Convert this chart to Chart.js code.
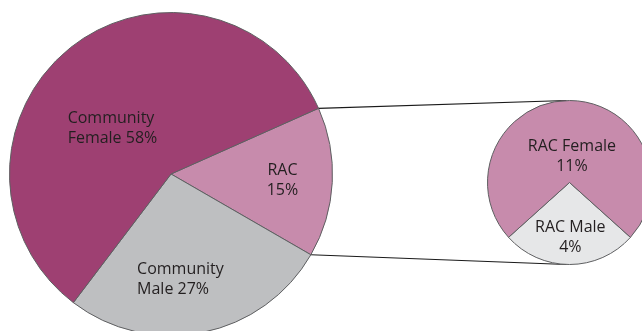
<!DOCTYPE html>
<html>
<head>
<meta charset="utf-8">
<script src="https://cdn.jsdelivr.net/npm/chart.js@4.4.1/dist/chart.umd.min.js"></script>
<style>
    html, body { margin: 0; padding: 0; background: #fff; overflow: hidden; width: 642px; height: 331px; }
    #stage { position: relative; width: 642px; height: 331px; overflow: hidden; }
    #stage canvas { position: absolute; }
    #links { left: 0; top: 0; }
    #mainPie { left: 9px; top: 12px; }
    #racPie { left: 487px; top: 100px; }
</style>
</head>
<body>
<div id="stage">
    <canvas id="links" width="642" height="331"></canvas>
    <canvas id="mainPie" width="324" height="324"></canvas>
    <canvas id="racPie" width="165" height="165"></canvas>
</div>
<script>
// ==================== DATA ====================
const mainLabels = ['RAC', 'Community\nMale', 'Community\nFemale'];
const mainValues = [15, 27, 58];
const mainColors = ['#C78BAC', '#BEBFC1', '#9E4072'];

const racLabels = ['RAC Male', 'RAC Female'];
const racValues = [4, 11];
const racColors = ['#E6E7E8', '#C78BAC'];

const TEXT_FONT = '16px "Open Sans", sans-serif';
const TEXT_COLOR = '#231F20';
const EDGE_COLOR = '#5E5F61';

// ==================== SLICE TEXT PLUGIN ====================
// spots: position of each text block, in units of the pie radius
const sliceText = {
    id: 'sliceText',
    afterDatasetsDraw(chart, args, opts) {
        const ctx = chart.ctx;
        const ds = chart.data.datasets[0];
        const arcs = chart.getDatasetMeta(0).data;
        ctx.save();
        ctx.font = TEXT_FONT;
        ctx.fillStyle = TEXT_COLOR;
        ctx.textBaseline = 'middle';
        arcs.forEach((arc, i) => {
            const spot = opts.spots[i];
            const R = arc.outerRadius;
            const text = chart.data.labels[i] + spot.sep + ds.data[i] + '%';
            const lines = text.split('\n');
            const bx = arc.x + spot.x * R;
            const by = arc.y + spot.y * R;
            ctx.textAlign = spot.align;
            lines.forEach((line, j) => {
                ctx.fillText(line, bx, by + (j - (lines.length - 1) / 2) * opts.lineHeight);
            });
        });
        ctx.restore();
    }
};

// ==================== BUILD PIE ====================
const buildPie = (canvasId, labels, values, colors, rotation, spots) => {
    return new Chart(document.getElementById(canvasId), {
        type: 'pie',
        data: {
            labels: labels,
            datasets: [{
                data: values,
                backgroundColor: colors,
                borderColor: EDGE_COLOR,
                borderWidth: 1
            }]
        },
        options: {
            responsive: false,
            animation: false,
            rotation: rotation,
            layout: { padding: 0 },
            plugins: {
                legend: { display: false },
                tooltip: { enabled: false },
                sliceText: { lineHeight: 20, spots: spots }
            }
        },
        plugins: [sliceText]
    });
};

const mainChart = buildPie('mainPie', mainLabels, mainValues, mainColors, 66, [
    { x: 0.69, y: 0.04, align: 'center', sep: '\n' },
    { x: -0.21, y: 0.65, align: 'left', sep: ' ' },
    { x: -0.64, y: -0.285, align: 'left', sep: ' ' }
]);

const racChart = buildPie('racPie', racLabels, racValues, racColors, 132, [
    { x: 0.01, y: 0.675, align: 'center', sep: '\n' },
    { x: 0.03, y: -0.32, align: 'center', sep: '\n' }
]);

// ==================== CONNECTOR LINES ====================
// join the edges of the RAC slice to the top and bottom of the breakdown pie
const drawLinks = () => {
    const ctx = document.getElementById('links').getContext('2d');
    const mainBox = document.getElementById('mainPie');
    const racBox = document.getElementById('racPie');
    const rac = mainChart.getDatasetMeta(0).data[0];
    const small = racChart.getDatasetMeta(0).data[0];

    const ox = mainBox.offsetLeft, oy = mainBox.offsetTop;
    const sx = racBox.offsetLeft + small.x, sy = racBox.offsetTop + small.y;
    const sr = small.outerRadius;

    const from = angle => [ox + rac.x + rac.outerRadius * Math.cos(angle),
                           oy + rac.y + rac.outerRadius * Math.sin(angle)];
    const a = from(rac.startAngle);
    const b = from(rac.endAngle);

    ctx.strokeStyle = '#1A1A1A';
    ctx.lineWidth = 1.2;
    ctx.beginPath();
    ctx.moveTo(a[0], a[1]);
    ctx.lineTo(sx - 3, sy - sr);
    ctx.moveTo(b[0], b[1]);
    ctx.lineTo(sx - 3, sy + sr);
    ctx.stroke();
};

drawLinks();
</script>
</body>
</html>
